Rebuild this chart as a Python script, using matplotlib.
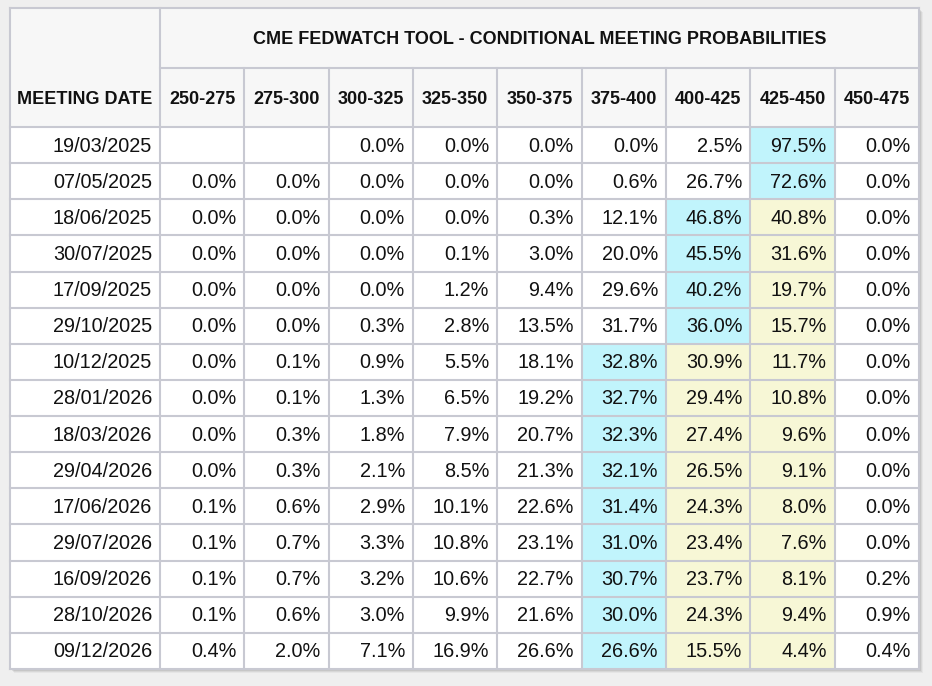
import matplotlib
matplotlib.use('Agg')
import matplotlib.pyplot as plt
from matplotlib.patches import Rectangle

# ---------------- data ----------------
title = "CME FEDWATCH TOOL - CONDITIONAL MEETING PROBABILITIES"
first_header = "MEETING DATE"
rate_ranges = ["250-275", "275-300", "300-325", "325-350", "350-375",
               "375-400", "400-425", "425-450", "450-475"]
current_range = "425-450"
meeting_dates = ["19/03/2025", "07/05/2025", "18/06/2025", "30/07/2025",
                 "17/09/2025", "29/10/2025", "10/12/2025", "28/01/2026",
                 "18/03/2026", "29/04/2026", "17/06/2026", "29/07/2026",
                 "16/09/2026", "28/10/2026", "09/12/2026"]

r250_275 = [None, 0.0, 0.0, 0.0, 0.0, 0.0, 0.0, 0.0, 0.0, 0.0, 0.1, 0.1, 0.1, 0.1, 0.4]
r275_300 = [None, 0.0, 0.0, 0.0, 0.0, 0.0, 0.1, 0.1, 0.3, 0.3, 0.6, 0.7, 0.7, 0.6, 2.0]
r300_325 = [0.0, 0.0, 0.0, 0.0, 0.0, 0.3, 0.9, 1.3, 1.8, 2.1, 2.9, 3.3, 3.2, 3.0, 7.1]
r325_350 = [0.0, 0.0, 0.0, 0.1, 1.2, 2.8, 5.5, 6.5, 7.9, 8.5, 10.1, 10.8, 10.6, 9.9, 16.9]
r350_375 = [0.0, 0.0, 0.3, 3.0, 9.4, 13.5, 18.1, 19.2, 20.7, 21.3, 22.6, 23.1, 22.7, 21.6, 26.6]
r375_400 = [0.0, 0.6, 12.1, 20.0, 29.6, 31.7, 32.8, 32.7, 32.3, 32.1, 31.4, 31.0, 30.7, 30.0, 26.6]
r400_425 = [2.5, 26.7, 46.8, 45.5, 40.2, 36.0, 30.9, 29.4, 27.4, 26.5, 24.3, 23.4, 23.7, 24.3, 15.5]
r425_450 = [97.5, 72.6, 40.8, 31.6, 19.7, 15.7, 11.7, 10.8, 9.6, 9.1, 8.0, 7.6, 8.1, 9.4, 4.4]
r450_475 = [0.0, 0.0, 0.0, 0.0, 0.0, 0.0, 0.0, 0.0, 0.0, 0.0, 0.0, 0.0, 0.2, 0.9, 0.4]

columns = [r250_275, r275_300, r300_325, r325_350, r350_375,
           r375_400, r400_425, r425_450, r450_475]

# ---------------- style ----------------
W, H = 932, 686
BG = "#efefef"
HEADER_BG = "#f7f7f7"
CELL_BG = "#ffffff"
CYAN = "#c1f4fc"
YELLOW = "#f7f7d6"
GRID = "#c8c9d2"
TEXT = "#111111"
FONT = "Liberation Sans"
DATA_FS = 14.3
HEAD_FS = 13.0

x_left, x_first, x_right = 10, 160, 919
y_top, y_h1, y_h2, y_bottom = 8, 68, 127, 669

ncol = len(rate_ranges)
nrow = len(meeting_dates)
col_w = (x_right - x_first) / ncol
row_h = (y_bottom - y_h2) / nrow
x_edges = [x_left] + [x_first + i * col_w for i in range(ncol + 1)]
y_edges = [y_h2 + i * row_h for i in range(nrow + 1)]

fig = plt.figure(figsize=(W / 100, H / 100), dpi=100)
fig.patch.set_facecolor(BG)
ax = fig.add_axes([0, 0, 1, 1])
ax.set_xlim(0, W)
ax.set_ylim(H, 0)
ax.axis("off")

# shadow
for k, a in [(4, 0.04), (3, 0.06), (2, 0.08), (1, 0.10)]:
    ax.add_patch(Rectangle((x_left + k, y_top + k), x_right - x_left, y_bottom - y_top,
                           facecolor="#000000", alpha=a, edgecolor="none", zorder=0))

# backgrounds
ax.add_patch(Rectangle((x_left, y_top), x_right - x_left, y_h2 - y_top,
                       facecolor=HEADER_BG, edgecolor="none", zorder=1))
ax.add_patch(Rectangle((x_left, y_h2), x_right - x_left, y_bottom - y_h2,
                       facecolor=CELL_BG, edgecolor="none", zorder=1))

cur_idx = rate_ranges.index(current_range)
pad = 8
for r in range(nrow):
    vals = [columns[c][r] for c in range(ncol)]
    valid = [(v, c) for c, v in enumerate(vals) if v is not None]
    max_idx = max(valid, key=lambda t: (t[0], t[1]))[1]
    yc = (y_edges[r] + y_edges[r + 1]) / 2
    for c in range(ncol):
        v = vals[c]
        color = None
        if c == max_idx:
            color = CYAN
        elif max_idx < c <= cur_idx:
            color = YELLOW
        if color:
            ax.add_patch(Rectangle((x_edges[c + 1], y_edges[r]), col_w, row_h,
                                   facecolor=color, edgecolor="none", zorder=2))
        if v is not None:
            ax.text(x_edges[c + 2] - pad, yc + 1, f"{v:.1f}%", ha="right", va="center",
                    fontsize=DATA_FS, family=FONT, color=TEXT, zorder=4)
    ax.text(x_first - pad, yc + 1, meeting_dates[r], ha="right", va="center",
            fontsize=DATA_FS, family=FONT, color=TEXT, zorder=4)

# headers
ax.text((x_first + x_right) / 2, (y_top + y_h1) / 2 + 1.5, title, ha="center", va="center",
        fontsize=HEAD_FS, fontweight="bold", family=FONT, color=TEXT, zorder=4)
ax.text((x_left + x_first) / 2, (y_h1 + y_h2) / 2 + 1.5, first_header, ha="center", va="center",
        fontsize=HEAD_FS, fontweight="bold", family=FONT, color=TEXT, zorder=4)
for c, lab in enumerate(rate_ranges):
    ax.text((x_edges[c + 1] + x_edges[c + 2]) / 2, (y_h1 + y_h2) / 2 + 1.5, lab,
            ha="center", va="center", fontsize=HEAD_FS, fontweight="bold",
            family=FONT, color=TEXT, zorder=4)

# grid lines
lw = 1.5
ax.plot([x_first, x_right], [y_h1, y_h1], color=GRID, lw=lw, zorder=5)
for y in [y_top] + y_edges:
    ax.plot([x_left, x_right], [y, y], color=GRID, lw=lw, zorder=5, solid_capstyle="projecting")
ax.plot([x_left, x_left], [y_top, y_bottom], color=GRID, lw=lw, zorder=5, solid_capstyle="projecting")
ax.plot([x_first, x_first], [y_top, y_bottom], color=GRID, lw=lw, zorder=5)
for x in x_edges[2:-1]:
    ax.plot([x, x], [y_h1, y_bottom], color=GRID, lw=lw, zorder=5)
ax.plot([x_right, x_right], [y_top, y_bottom], color=GRID, lw=lw, zorder=5, solid_capstyle="projecting")

fig.savefig("out.png", dpi=100, facecolor=BG)
